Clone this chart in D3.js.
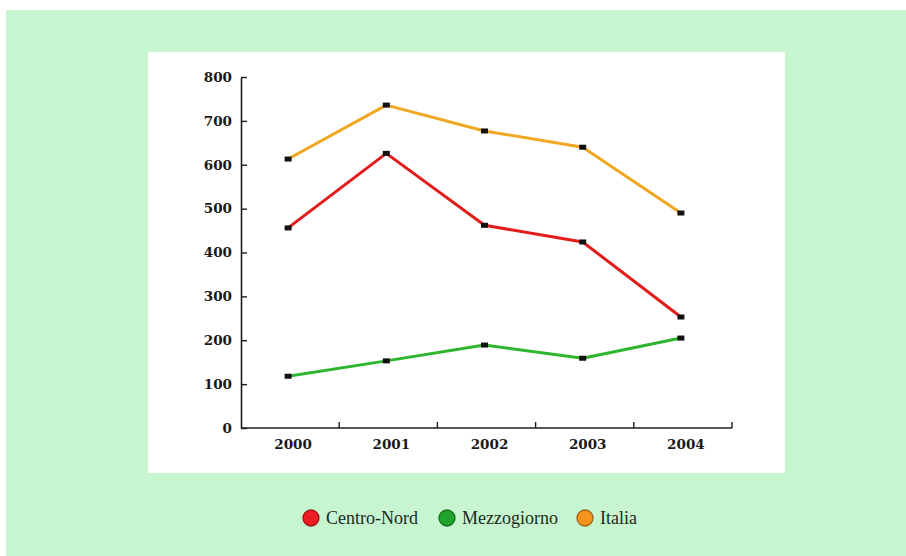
<!DOCTYPE html>
<html>
<head>
<meta charset="utf-8">
<script src="https://cdn.jsdelivr.net/npm/d3@7"></script>
<style>
  html, body { margin: 0; padding: 0; background: #ffffff; }
  svg { display: block; }
</style>
</head>
<body>
<svg id="chart" width="906" height="556"></svg>
<script>
const years = ["2000", "2001", "2002", "2003", "2004"];
const yTicks = [0, 100, 200, 300, 400, 500, 600, 700, 800];
const seriesNames = ["Centro-Nord", "Mezzogiorno", "Italia"];
const centroNord = [456, 626, 462, 424, 253];
const mezzogiorno = [118, 153, 189, 159, 205];
const italia = [613, 736, 677, 640, 490];
const lineColors = ["#e41b1b", "#2eb52e", "#f0a722"];
const legendColors = ["#ee1c24", "#1fa32a", "#f7941d"];

const series = [
  { name: seriesNames[0], values: centroNord, color: lineColors[0] },
  { name: seriesNames[1], values: mezzogiorno, color: lineColors[1] },
  { name: seriesNames[2], values: italia, color: lineColors[2] }
];

const svg = d3.select("#chart");

// backgrounds
svg.append("rect").attr("x", 0).attr("y", 0).attr("width", 906).attr("height", 556).attr("fill", "#ffffff");
svg.append("rect").attr("x", 6).attr("y", 10).attr("width", 900).attr("height", 546).attr("fill", "#c6f5cf");
svg.append("rect").attr("x", 148).attr("y", 52).attr("width", 637).attr("height", 421).attr("fill", "#ffffff");

const x = d3.scaleBand().domain(years).range([241, 732]);
const y = d3.scaleLinear().domain([0, 800]).range([428, 77]);

const axisColor = "#1e1e1e";
const tickFont = "'DejaVu Serif', serif";

// y axis (ticks inward)
const yAxis = svg.append("g").attr("transform", "translate(241,0)")
  .call(d3.axisLeft(y).tickValues(yTicks).tickSize(-6).tickSizeOuter(0).tickPadding(9));
yAxis.select(".domain").attr("stroke", axisColor).attr("stroke-width", 1.6);
yAxis.selectAll(".tick line").attr("stroke", axisColor).attr("stroke-width", 1.4);
yAxis.selectAll(".tick text").attr("fill", "#1a1a1a").style("font-family", tickFont)
  .style("font-weight", "bold").style("font-size", "13.5px");

// x axis line
svg.append("line").attr("x1", 241).attr("x2", 732).attr("y1", 428).attr("y2", 428)
  .attr("stroke", axisColor).attr("stroke-width", 1.6);
// x ticks at band boundaries (pointing up)
svg.append("g").selectAll("line").data(years).join("line")
  .attr("x1", d => x(d) + x.bandwidth()).attr("x2", d => x(d) + x.bandwidth())
  .attr("y1", 428).attr("y2", 422)
  .attr("stroke", axisColor).attr("stroke-width", 1.4);
// x labels
svg.append("g").selectAll("text").data(years).join("text")
  .attr("x", d => x(d) + x.bandwidth() / 2 + 3).attr("y", 449)
  .attr("text-anchor", "middle")
  .attr("fill", "#1a1a1a").style("font-family", tickFont)
  .style("font-weight", "bold").style("font-size", "13.5px")
  .text(d => d);

// lines
const line = d3.line()
  .x((d, i) => x(years[i]) + x.bandwidth() / 2 - 2)
  .y(d => y(d));

const lg = svg.append("g");
series.forEach(s => {
  lg.append("path").datum(s.values)
    .attr("d", line)
    .attr("fill", "none")
    .attr("stroke", s.color)
    .attr("stroke-width", 3)
    .attr("stroke-linejoin", "round");
});
series.forEach(s => {
  lg.append("g").selectAll("rect").data(s.values).join("rect")
    .attr("x", (d, i) => x(years[i]) + x.bandwidth() / 2 - 2 - 3.5)
    .attr("y", d => y(d) - 2.5)
    .attr("width", 7).attr("height", 5)
    .attr("fill", "#111");
});

// legend
const legendX = [311, 447, 585];
const leg = svg.append("g");
series.forEach((s, i) => {
  leg.append("circle").attr("cx", legendX[i]).attr("cy", 518).attr("r", 8)
    .attr("fill", legendColors[i]).attr("stroke", d3.color(legendColors[i]).darker(1.2)).attr("stroke-width", 1.3);
  leg.append("text").attr("x", legendX[i] + 15).attr("y", 524)
    .attr("fill", "#1c2a1c")
    .style("font-family", "'Liberation Serif', 'DejaVu Serif', serif")
    .style("font-size", "18px")
    .text(s.name);
});
</script>
</body>
</html>
